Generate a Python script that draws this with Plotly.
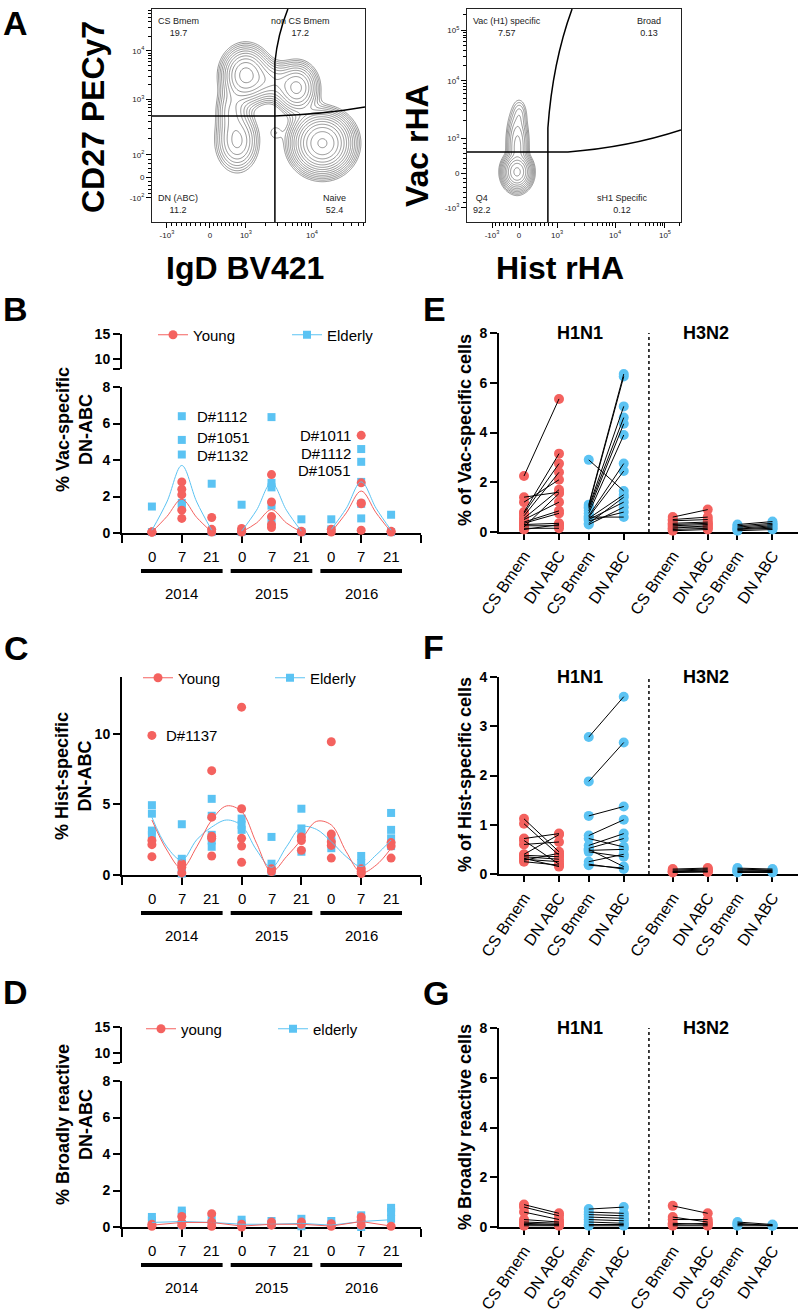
import numpy as np
import plotly.graph_objects as go

W, H = 798, 1315
RED = "#F4625F"
BLUE = "#5BC3F3"
FONT = "Liberation Sans, Arial, Helvetica, sans-serif"


def fx(p):
    return p / W


def fy(p):
    return 1 - p / H


# ------------------------------------------------------------------ data
years = ["2014", "2015", "2016"]
days = ["0", "7", "21"]
timepoint_pos = [1, 2, 3, 4, 5, 6, 7, 8, 9]
year_pos = [2, 5, 8]

# Panel B: % Vac-specific DN-ABC (one list per time point)
vac_young = [[0.05, 0.05, 0.05], [2.8, 2.4, 2.1, 1.25, 0.8], [0.85, 0.2, 0.05],
             [0.25, 0.1, 0.05], [3.2, 1.7, 0.9, 0.45, 0.3], [0.1, 0.05],
             [0.2, 0.05], [5.35, 2.75, 1.65, 1.6, 0.15], [0.1, 0.05]]
vac_elderly = [[1.45, 0.05], [6.4, 5.1, 4.3, 1.65, 1.5], [2.7, 0.05],
               [1.55, 0.05], [6.35, 2.75, 2.5, 1.5, 0.7], [0.75, 0.05],
               [0.75, 0.2], [4.6, 3.9, 2.8, 1.6, 0.8], [1.0, 0.05]]
# fitted curves read per year at day positions 0, mid, 7, mid, 21
vac_fit_young = [[0.05, 0.9, 1.85, 0.85, 0.05], [0.05, 0.55, 1.28, 0.55, 0.05],
                 [0.05, 1.1, 2.3, 1.1, 0.05]]
vac_fit_elderly = [[0.15, 1.7, 3.7, 1.7, 0.15], [0.1, 1.25, 2.75, 1.25, 0.1],
                   [0.2, 1.35, 2.8, 1.35, 0.15]]
vac_labels_left = [("D#1112", 6.4), ("D#1051", 5.1), ("D#1132", 4.3)]
vac_labels_right = [("D#1011", 5.35), ("D#1112", 4.6), ("D#1051", 3.9)]

# Panel C: % Hist-specific DN-ABC
hist_young = [[9.9, 2.45, 2.15, 1.3], [0.8, 0.55, 0.15], [7.4, 4.1, 2.75, 2.6, 1.35],
              [11.9, 4.7, 2.6, 2.05, 0.9], [0.45, 0.25], [2.7, 2.45, 1.75],
              [9.45, 2.9, 2.35, 2.1, 1.2], [0.45, 0.25, 0.1], [2.3, 2.05, 1.2]]
hist_elderly = [[4.95, 4.35, 3.15, 2.85], [3.6, 1.15, 0.85, 0.45, 0.1],
                [5.4, 4.2, 2.85, 2.45, 2.0], [4.0, 3.55, 3.2], [2.7, 0.8, 0.25],
                [4.7, 3.3, 2.95, 1.65], [2.6, 2.35, 1.9], [1.35, 0.85, 0.25],
                [4.4, 3.2, 2.6, 2.05]]
hist_fit_pos = [1, 1.5, 2, 2.5, 3, 3.5, 4, 4.5, 5, 5.5, 6, 6.5, 7, 7.5, 8, 8.5, 9]
hist_fit_young = [3.9, 1.77, 0.47, 2.0, 3.9, 4.9, 4.5, 2.25, 0.24, 1.3, 2.5,
                  3.8, 3.55, 1.65, 0.17, 0.7, 1.9]
hist_fit_elderly = [4.1, 2.0, 1.06, 2.5, 3.4, 3.9, 3.5, 1.77, 0.54, 2.0, 3.4,
                    3.24, 2.36, 1.3, 0.6, 1.42, 2.48]

# Panel D: % Broadly reactive DN-ABC
broad_young = [[0.15, 0.04], [0.58, 0.27, 0.1], [0.73, 0.27, 0.04], [0.15, 0.0],
               [0.27, 0.1], [0.27, 0.15], [0.18, 0.04], [0.55, 0.36, 0.1], [0.04]]
broad_elderly = [[0.55, 0.36], [0.9, 0.73, 0.1], [0.45, 0.18], [0.4, 0.18],
                 [0.33, 0.15], [0.45, 0.04], [0.33, 0.15], [0.64, 0.0],
                 [1.05, 0.82, 0.45]]
broad_line_young = [0.1, 0.25, 0.25, 0.05, 0.15, 0.15, 0.05, 0.3, 0.05]
broad_line_elderly = [0.25, 0.3, 0.25, 0.15, 0.15, 0.2, 0.1, 0.3, 0.4]

# Panels E-G: paired CS Bmem vs DN ABC
cell_types = ["CS Bmem", "DN ABC"] * 4
cell_pos = [1, 2, 2.85, 3.85, 5.25, 6.25, 7.1, 8.1]
subtype_pos = [2.6, 6.2]
divider_pos = 4.57

vac_h1_young_cs = [2.25, 1.4, 1.2, 0.8, 0.75, 0.65, 0.55, 0.5, 0.4, 0.35, 0.3, 0.25, 0.2, 0.15, 0.1]
vac_h1_young_dn = [5.35, 1.6, 2.1, 3.15, 2.75, 2.4, 1.7, 1.2, 0.85, 0.75, 0.35, 0.25, 1.55, 0.15, 0.3]
vac_h1_eld_cs = [2.9, 1.1, 1.05, 1.0, 0.95, 0.85, 0.75, 0.65, 0.6, 0.55, 0.5, 0.45, 0.6, 0.35, 0.3]
vac_h1_eld_dn = [1.65, 6.35, 6.25, 5.05, 4.6, 4.35, 3.9, 2.75, 2.45, 1.5, 1.2, 0.8, 0.6, 1.4, 1.0]
vac_h3_young_cs = [0.6, 0.5, 0.45, 0.35, 0.3, 0.25, 0.2, 0.15, 0.1, 0.05]
vac_h3_young_dn = [0.9, 0.6, 0.5, 0.4, 0.35, 0.3, 0.2, 0.25, 0.15, 0.1]
vac_h3_eld_cs = [0.3, 0.25, 0.2, 0.15, 0.12, 0.1, 0.05]
vac_h3_eld_dn = [0.42, 0.35, 0.3, 0.25, 0.2, 0.15, 0.1]

hist_h1_young_cs = [1.12, 1.02, 0.72, 0.68, 0.6, 0.4, 0.38, 0.35, 0.32, 0.3, 0.28, 0.25]
hist_h1_young_dn = [0.45, 0.38, 0.82, 0.2, 0.65, 0.8, 0.35, 0.3, 0.15, 0.25, 0.42, 0.18]
hist_h1_eld_cs = [2.78, 1.88, 1.18, 0.78, 0.72, 0.58, 0.52, 0.5, 0.48, 0.45, 0.25, 0.2, 0.18]
hist_h1_eld_dn = [3.6, 2.67, 1.37, 1.1, 0.55, 0.82, 0.72, 0.15, 0.5, 0.35, 0.4, 0.1, 0.12]
hist_h3_young_cs = [0.1, 0.08, 0.06, 0.05, 0.04, 0.03]
hist_h3_young_dn = [0.12, 0.1, 0.08, 0.06, 0.05, 0.04]
hist_h3_eld_cs = [0.12, 0.1, 0.08, 0.06, 0.05, 0.03]
hist_h3_eld_dn = [0.1, 0.08, 0.07, 0.05, 0.04, 0.03]

broad_h1_young_cs = [0.9, 0.8, 0.6, 0.3, 0.2, 0.15, 0.1, 0.05]
broad_h1_young_dn = [0.55, 0.45, 0.3, 0.2, 0.15, 0.1, 0.08, 0.05]
broad_h1_eld_cs = [0.72, 0.6, 0.5, 0.4, 0.3, 0.2, 0.1, 0.05]
broad_h1_eld_dn = [0.8, 0.55, 0.45, 0.35, 0.25, 0.15, 0.1, 0.05]
broad_h3_young_cs = [0.85, 0.4, 0.3, 0.15, 0.1, 0.05]
broad_h3_young_dn = [0.55, 0.2, 0.3, 0.1, 0.15, 0.05]
broad_h3_eld_cs = [0.2, 0.15, 0.1, 0.05]
broad_h3_eld_dn = [0.1, 0.05, 0.08, 0.05]

# Panel A: flow populations (biexponential display units, 0-1)
cd27_pop_x = [0.44, 0.68, 0.80, 0.40, 0.37, 0.577, 0.56]
cd27_pop_y = [0.69, 0.63, 0.37, 0.38, 0.53, 0.42, 0.66]
cd27_pop_sx = [0.058, 0.052, 0.07, 0.055, 0.04, 0.025, 0.05]
cd27_pop_sy = [0.068, 0.062, 0.07, 0.078, 0.06, 0.03, 0.05]
cd27_pop_w = [1.0, 0.75, 2.0, 0.45, 0.25, 0.08, 0.3]
cd27_gate_text = [("CS Bmem<br>19.7", 0.023, 0.915, "left"),
                  ("non CS Bmem<br>17.2", 0.84, 0.915, "right"),
                  ("DN (ABC)<br>11.2", 0.023, 0.085, "left"),
                  ("Naive<br>52.4", 0.915, 0.085, "right")]
rha_pop_x = [0.234, 0.236, 0.245]
rha_pop_y = [0.235, 0.35, 0.50]
rha_pop_sx = [0.022, 0.018, 0.014]
rha_pop_sy = [0.028, 0.065, 0.03]
rha_pop_w = [1.0, 0.06, 0.006]
rha_gate_text = [("Vac (H1) specific<br>7.57", 0.023, 0.915, "left"),
                 ("Broad<br>0.13", 0.911, 0.915, "right"),
                 ("Q4<br>92.2", 0.023, 0.085, "left"),
                 ("sH1 Specific<br>0.12", 0.85, 0.085, "right")]

# ------------------------------------------------------------------ figure
fig = go.Figure()
layout = dict(width=W, height=H, margin=dict(l=0, r=0, t=0, b=0, pad=0), autosize=False,
              template="none", paper_bgcolor="white", plot_bgcolor="white", showlegend=True,
              font=dict(family=FONT, color="black"))
annotations = []
shapes = []


def ann(text, x, y, size, bold=False, angle=0, xanchor="center", yanchor="middle",
        xref="paper", yref="paper", xshift=0, yshift=0, color="black"):
    annotations.append(dict(text=("<b>%s</b>" % text) if bold else text, x=x, y=y,
                            xref=xref, yref=yref, showarrow=False, textangle=angle,
                            xanchor=xanchor, yanchor=yanchor, xshift=xshift, yshift=yshift,
                            borderpad=0, font=dict(family=FONT, size=size, color=color)))


def sup(e):
    return "10<sup>%s</sup>" % e


def lin_minor(a, b, n):
    return list(np.linspace(a, b, n + 2)[1:-1])


def log_minor(a, width, limit=1.0):
    return [a + width * np.log10(k) for k in range(2, 10) if a + width * np.log10(k) < limit]


def flow_axis(domain, vals, texts, minor_vals, anchor):
    return dict(domain=domain, range=[0, 1], tickvals=vals, ticktext=texts, ticks="outside",
                ticklen=5, tickwidth=1, tickcolor="black", showline=True, mirror=True,
                linecolor="#222", linewidth=1, showgrid=False, zeroline=False, automargin=False,
                tickfont=dict(family=FONT, size=8, color="#222"), anchor=anchor,
                minor=dict(tickmode="array", tickvals=minor_vals, ticklen=3, ticks="outside",
                           tickcolor="black", tickwidth=1, showgrid=False))


def flow_density(cx, cy, sx, sy, w, n=221):
    g = np.linspace(0, 1, n)
    X, Y = np.meshgrid(g, g)
    d = np.zeros_like(X)
    for a, b, c, e, f in zip(cx, cy, sx, sy, w):
        d += f * np.exp(-0.5 * (((X - a) / c) ** 2 + ((Y - b) / e) ** 2))
    return g, np.log10(d + 1e-300)


# --- A1
a1x = [0.070, 0.272, 0.441, 0.751]
a1y = [0.113, 0.211, 0.315, 0.577, 0.803]
layout["xaxis"] = flow_axis([fx(152), fx(365)], a1x, ["-" + sup(3), "0", sup(3), sup(4)],
                            lin_minor(0.070, 0.272, 8) + lin_minor(0.272, 0.441, 8)
                            + log_minor(0.441, 0.31) + log_minor(0.751, 0.31), "y")
layout["yaxis"] = flow_axis([fy(222), fy(9)], a1y, ["-" + sup(2), "0", sup(2), sup(3), sup(4)],
                            lin_minor(0.113, 0.211, 4) + lin_minor(0.211, 0.315, 4)
                            + log_minor(0.315, 0.262) + log_minor(0.577, 0.226)
                            + log_minor(0.803, 0.226), "x")
g, z = flow_density(cd27_pop_x, cd27_pop_y, cd27_pop_sx, cd27_pop_sy, cd27_pop_w)
zmax = float(z.max())
fig.add_trace(go.Contour(x=g, y=g, z=z, xaxis="x", yaxis="y", showscale=False, hoverinfo="skip",
                         contours=dict(coloring="lines", start=zmax - 1.45, end=zmax - 0.02, size=0.11),
                         colorscale=[[0, "#666"], [1, "#666"]], line=dict(width=0.7),
                         showlegend=False))
shapes.append(dict(type="path", xref="x", yref="y", path="M0,0.498 L0.577,0.498 Q0.8,0.505 1,0.54",
                   line=dict(color="black", width=1.5)))
shapes.append(dict(type="path", xref="x", yref="y", path="M0.577,0 L0.577,0.75 Q0.59,0.88 0.638,1",
                   line=dict(color="black", width=1.5)))
for t, x, y, anc in cd27_gate_text:
    ann(t, x, y, 9, xref="x", yref="y", xanchor=anc, color="#222")
ann("CD27 PECy7", fx(93), fy(117), 32, bold=True, angle=-90)
ann("IgD BV421", fx(245), fy(268), 32, bold=True)

# --- A2
a2x = [0.117, 0.243, 0.421, 0.692, 0.925]
a2y = [0.066, 0.230, 0.394, 0.662, 0.901]
layout["xaxis2"] = flow_axis([fx(467), fx(681)], a2x, ["-" + sup(3), "0", sup(3), sup(4), sup(5)],
                             lin_minor(0.117, 0.243, 6) + lin_minor(0.243, 0.421, 8)
                             + log_minor(0.421, 0.271) + log_minor(0.692, 0.233)
                             + log_minor(0.925, 0.233), "y2")
layout["yaxis2"] = flow_axis([fy(222), fy(9)], a2y, ["-" + sup(3), "0", sup(3), sup(4), sup(5)],
                             lin_minor(0.066, 0.230, 6) + lin_minor(0.230, 0.394, 6)
                             + log_minor(0.394, 0.268) + log_minor(0.662, 0.239)
                             + log_minor(0.901, 0.239), "x2")
g2, z2 = flow_density(rha_pop_x, rha_pop_y, rha_pop_sx, rha_pop_sy, rha_pop_w)
zmax2 = float(z2.max())
fig.add_trace(go.Contour(x=g2, y=g2, z=z2, xaxis="x2", yaxis="y2", showscale=False, hoverinfo="skip",
                         contours=dict(coloring="lines", start=zmax2 - 3.3, end=zmax2 - 0.1, size=0.32),
                         colorscale=[[0, "#666"], [1, "#666"]], line=dict(width=0.7),
                         showlegend=False))
shapes.append(dict(type="path", xref="x2", yref="y2", path="M0,0.329 L0.472,0.329 Q0.75,0.35 1,0.432",
                   line=dict(color="black", width=1.5)))
shapes.append(dict(type="path", xref="x2", yref="y2", path="M0.378,0 L0.378,0.441 Q0.40,0.75 0.491,1",
                   line=dict(color="black", width=1.5)))
for t, x, y, anc in rha_gate_text:
    ann(t, x, y, 9, xref="x2", yref="y2", xanchor=anc, color="#222")
ann("Vac rHA", fx(417), fy(146), 32, bold=True, angle=-90)
ann("Hist rHA", fx(560), fy(268), 32, bold=True)

# ------------------------------------------------------------------ time-course panels
TICKFONT = dict(family=FONT, size=14, color="black")


def bold_labels(vals):
    return ["<b>%s</b>" % ("%g" % v) for v in vals]


def tc_xaxis(anchor):
    return dict(domain=[fx(122), fx(421)], range=[0, 10], showline=True, linecolor="black",
                linewidth=2, ticks="outside", tickvals=[0, 2, 4, 6, 8, 10], ticklen=8, tickwidth=2,
                tickcolor="black", showticklabels=False, showgrid=False, zeroline=False,
                anchor=anchor, layer="below traces", automargin=False)


def val_yaxis(domain, rng, tickvals, anchor, ticktext=None):
    return dict(domain=domain, range=rng, showline=True, linecolor="black", linewidth=2,
                ticks="outside", tickvals=tickvals,
                ticktext=ticktext if ticktext is not None else bold_labels(tickvals),
                ticklen=7, tickwidth=2, tickcolor="black",
                showgrid=False, zeroline=False, tickfont=TICKFONT, anchor=anchor,
                layer="below traces", automargin=False)


def tc_points(vals, xa, ya, color, symbol, size):
    xs, ys = [], []
    for p, grp in zip(timepoint_pos, vals):
        for v in grp:
            xs.append(p)
            ys.append(v)
    return go.Scatter(x=xs, y=ys, mode="markers", xaxis=xa, yaxis=ya, showlegend=False,
                      cliponaxis=False, hoverinfo="skip",
                      marker=dict(color=color, symbol=symbol, size=size, line=dict(width=0)))


def legend_entry(name, color, symbol, size, legend, xa, ya):
    return go.Scatter(x=[None], y=[None], mode="lines+markers", name=name, legend=legend,
                      xaxis=xa, yaxis=ya, line=dict(color=color, width=1),
                      marker=dict(color=color, symbol=symbol, size=size))


def time_labels(xa, axis_px):
    for p, d in zip(timepoint_pos, days * 3):
        ann(d, p, fy(axis_px + 23), 15, xref=xa, yref="paper")
    for p, yr in zip(year_pos, years):
        ann(yr, p, fy(axis_px + 60), 15, xref=xa, yref="paper")
    for p in year_pos:
        shapes.append(dict(type="line", xref=xa, yref="paper", x0=p - 1.365, x1=p + 1.365,
                           y0=fy(axis_px + 38), y1=fy(axis_px + 38),
                           line=dict(color="black", width=4)))


def legend_layout(x0, ypx, entry):
    return dict(x=fx(x0), xanchor="left", y=fy(ypx), yanchor="middle", orientation="h",
                font=dict(family=FONT, size=15, color="black"), bgcolor="rgba(0,0,0,0)",
                entrywidth=entry, entrywidthmode="pixels", itemwidth=30, tracegroupgap=0,
                borderwidth=0)


# --- B
layout["xaxis3"] = tc_xaxis("y3")
layout["yaxis3"] = val_yaxis([fy(533), fy(387)], [0, 8], [0, 2, 4, 6, 8], "x3")
layout["yaxis4"] = val_yaxis([fy(369), fy(334)], [8, 15], [8, 10, 15], "x3",
                             [" ", "<b>10</b>", "<b>15</b>"])
fig.add_trace(go.Scatter(x=[None], y=[None], xaxis="x3", yaxis="y4", showlegend=False))
fig.add_trace(tc_points(vac_elderly, "x3", "y3", BLUE, "square", 8))
fig.add_trace(tc_points(vac_young, "x3", "y3", RED, "circle", 9))
for fits, color in [(vac_fit_elderly, BLUE), (vac_fit_young, RED)]:
    xs, ys = [], []
    for start, seg in zip([1, 4, 7], fits):
        xs += [start + 0.5 * k for k in range(len(seg))] + [None]
        ys += seg + [None]
    fig.add_trace(go.Scatter(x=xs, y=ys, mode="lines", line=dict(color=color, width=1, shape="spline"),
                             xaxis="x3", yaxis="y3", showlegend=False, hoverinfo="skip",
                             connectgaps=False))
fig.add_trace(legend_entry("Young", RED, "circle", 9, "legend", "x3", "y3"))
fig.add_trace(legend_entry("Elderly", BLUE, "square", 8, "legend", "x3", "y3"))
layout["legend"] = legend_layout(153, 335, 89)
for (t, v), ys in zip(vac_labels_left, [0, 2, -1]):
    ann(t, 2, v, 15, xref="x3", yref="y3", xanchor="left", xshift=14, yshift=ys)
for (t, v), ys in zip(vac_labels_right, [0, -4, -9]):
    ann(t, 8, v, 15, xref="x3", yref="y3", xanchor="right", xshift=-9, yshift=ys)
time_labels("x3", 533)
ann("% Vac-specific<br>DN-ABC", fx(74), fy(430), 18, bold=True, angle=-90)

# --- C
layout["xaxis5"] = tc_xaxis("y5")
layout["yaxis5"] = val_yaxis([fy(875), fy(677)], [0, 14.04], [0, 5, 10], "x5")
fig.add_trace(tc_points(hist_elderly, "x5", "y5", BLUE, "square", 8))
fig.add_trace(tc_points(hist_young, "x5", "y5", RED, "circle", 9))
for fit, color in [(hist_fit_elderly, BLUE), (hist_fit_young, RED)]:
    fig.add_trace(go.Scatter(x=hist_fit_pos, y=fit, mode="lines",
                             line=dict(color=color, width=1, shape="spline"),
                             xaxis="x5", yaxis="y5", showlegend=False, hoverinfo="skip"))
fig.add_trace(legend_entry("Young", RED, "circle", 9, "legend2", "x5", "y5"))
fig.add_trace(legend_entry("Elderly", BLUE, "square", 8, "legend2", "x5", "y5"))
layout["legend2"] = legend_layout(138, 678, 87)
ann("D#1137", 1, hist_young[0][0], 15, xref="x5", yref="y5", xanchor="left", xshift=13)
time_labels("x5", 875)
ann("% Hist-specific<br>DN-ABC", fx(73), fy(776), 18, bold=True, angle=-90)

# --- D
layout["xaxis6"] = tc_xaxis("y6")
layout["yaxis6"] = val_yaxis([fy(1227), fy(1081)], [0, 8], [0, 2, 4, 6, 8], "x6")
layout["yaxis7"] = val_yaxis([fy(1063), fy(1027)], [8, 15], [8, 10, 15], "x6",
                             [" ", "<b>10</b>", "<b>15</b>"])
fig.add_trace(go.Scatter(x=[None], y=[None], xaxis="x6", yaxis="y7", showlegend=False))
fig.add_trace(tc_points(broad_elderly, "x6", "y6", BLUE, "square", 8))
fig.add_trace(tc_points(broad_young, "x6", "y6", RED, "circle", 9))
for line_vals, color in [(broad_line_elderly, BLUE), (broad_line_young, RED)]:
    fig.add_trace(go.Scatter(x=timepoint_pos, y=line_vals, mode="lines", line=dict(color=color, width=1),
                             xaxis="x6", yaxis="y6", showlegend=False, hoverinfo="skip"))
fig.add_trace(legend_entry("young", RED, "circle", 9, "legend3", "x6", "y6"))
fig.add_trace(legend_entry("elderly", BLUE, "square", 8, "legend3", "x6", "y6"))
layout["legend3"] = legend_layout(141, 1029, 87)
time_labels("x6", 1227)
ann("% Broadly reactive<br>DN-ABC", fx(74), fy(1125), 18, bold=True, angle=-90)


# ------------------------------------------------------------------ paired panels
def pair_xaxis(anchor):
    return dict(domain=[fx(499), fx(798)], range=[0.2857, 8.829], showline=True, linecolor="black",
                linewidth=2, ticks="outside", tickvals=cell_pos, ticktext=cell_types, ticklen=6,
                tickwidth=2, tickcolor="black", tickangle=-56, showgrid=False, zeroline=False,
                tickfont=dict(family=FONT, size=16, color="black"), anchor=anchor,
                layer="below traces", automargin=False)


def paired(groups, xa, ya, top):
    for (cs, dn), (p0, p1), color in groups:
        fig.add_trace(go.Scatter(x=[p0] * len(cs) + [p1] * len(dn), y=cs + dn, mode="markers",
                                 marker=dict(color=color, size=10, line=dict(width=0)),
                                 xaxis=xa, yaxis=ya, showlegend=False, cliponaxis=False,
                                 hoverinfo="skip"))
        lx, ly = [], []
        for a, b in zip(cs, dn):
            lx += [p0, p1, None]
            ly += [a, b, None]
        fig.add_trace(go.Scatter(x=lx, y=ly, mode="lines", line=dict(color="black", width=1),
                                 xaxis=xa, yaxis=ya, showlegend=False, hoverinfo="skip"))
    shapes.append(dict(type="line", xref=xa, yref=ya, x0=divider_pos, x1=divider_pos, y0=0, y1=top,
                       line=dict(color="black", width=1.5, dash="dot")))
    for p, name in zip(subtype_pos, ["H1N1", "H3N2"]):
        ann(name, p, top, 18, bold=True, xref=xa, yref=ya)


pairs_pos = [(cell_pos[0], cell_pos[1]), (cell_pos[2], cell_pos[3]),
             (cell_pos[4], cell_pos[5]), (cell_pos[6], cell_pos[7])]
colors4 = [RED, BLUE, RED, BLUE]

# --- E
layout["xaxis8"] = pair_xaxis("y8")
layout["yaxis8"] = val_yaxis([fy(532), fy(333)], [0, 8], [0, 2, 4, 6, 8], "x8")
paired(list(zip([(vac_h1_young_cs, vac_h1_young_dn), (vac_h1_eld_cs, vac_h1_eld_dn),
                 (vac_h3_young_cs, vac_h3_young_dn), (vac_h3_eld_cs, vac_h3_eld_dn)],
                pairs_pos, colors4)), "x8", "y8", 8)
ann("% of Vac-specific cells", fx(465), fy(430), 18, bold=True, angle=-90)

# --- F
layout["xaxis9"] = pair_xaxis("y9")
layout["yaxis9"] = val_yaxis([fy(874), fy(677)], [0, 4], [0, 1, 2, 3, 4], "x9")
paired(list(zip([(hist_h1_young_cs, hist_h1_young_dn), (hist_h1_eld_cs, hist_h1_eld_dn),
                 (hist_h3_young_cs, hist_h3_young_dn), (hist_h3_eld_cs, hist_h3_eld_dn)],
                pairs_pos, colors4)), "x9", "y9", 4)
ann("% of Hist-specific cells", fx(465), fy(775), 18, bold=True, angle=-90)

# --- G
layout["xaxis10"] = pair_xaxis("y10")
layout["yaxis10"] = val_yaxis([fy(1227), fy(1028)], [0, 8], [0, 2, 4, 6, 8], "x10")
paired(list(zip([(broad_h1_young_cs, broad_h1_young_dn), (broad_h1_eld_cs, broad_h1_eld_dn),
                 (broad_h3_young_cs, broad_h3_young_dn), (broad_h3_eld_cs, broad_h3_eld_dn)],
                pairs_pos, colors4)), "x10", "y10", 8)
ann("% Broadly reactive cells", fx(465), fy(1127), 18, bold=True, angle=-90)

# ------------------------------------------------------------------ panel letters
for letter, x, y in [("A", 15, 23), ("B", 15, 309), ("C", 16, 648), ("D", 15, 992),
                     ("E", 434, 309), ("F", 433, 647), ("G", 436, 993)]:
    ann(letter, fx(x), fy(y), 34, bold=True)

layout["annotations"] = annotations
layout["shapes"] = shapes
fig.update_layout(**layout)
fig.write_html("out.html", config={"displayModeBar": False},
               post_script="document.body.style.margin='0px';document.body.style.overflow='hidden';")
